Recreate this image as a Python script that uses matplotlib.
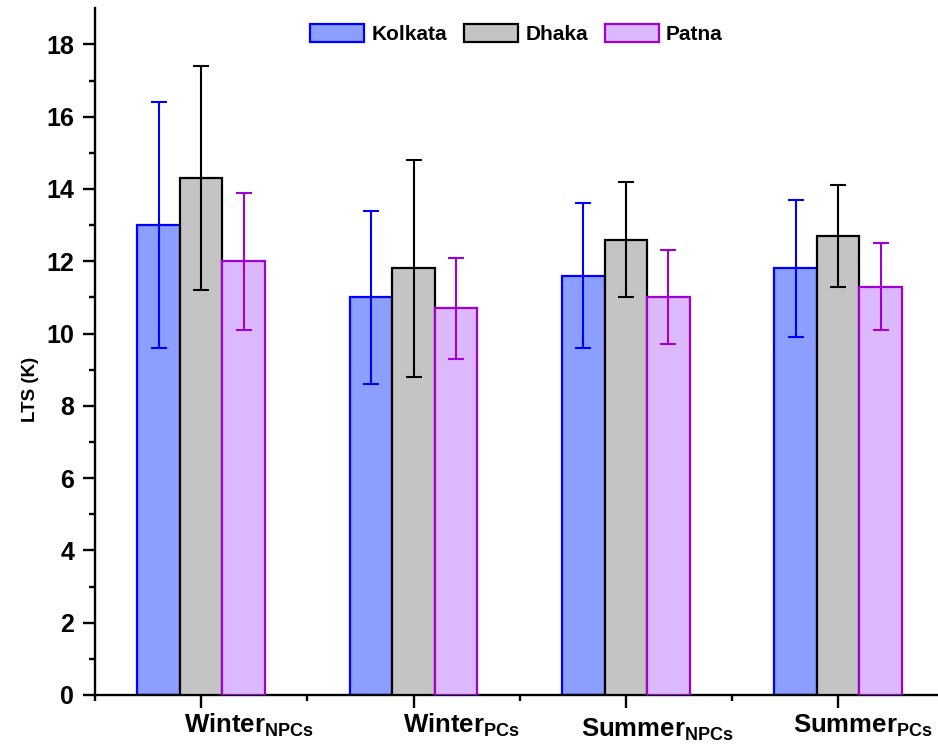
import numpy as np
import matplotlib.pyplot as plt

plt.rcParams['font.family'] = ['Liberation Sans', 'DejaVu Sans']
plt.rcParams['font.weight'] = 'bold'
plt.rcParams['mathtext.fontset'] = 'custom'
plt.rcParams['mathtext.bf'] = 'Liberation Sans:bold'
plt.rcParams['mathtext.rm'] = 'Liberation Sans:bold'

seasons = ['Winter', 'Winter', 'Summer', 'Summer']
subs = ['NPCs', 'PCs', 'NPCs', 'PCs']
cities = ['Kolkata', 'Dhaka', 'Patna']

kolkata = [13.0, 11.0, 11.6, 11.8]
kolkata_err = [3.4, 2.4, 2.0, 1.9]
dhaka = [14.3, 11.8, 12.6, 12.7]
dhaka_err = [3.1, 3.0, 1.6, 1.4]
patna = [12.0, 10.7, 11.0, 11.3]
patna_err = [1.9, 1.4, 1.3, 1.2]

faces = ['#8c9eff', '#c4c4c4', '#dcb8ff']
edges = ['#0000ff', '#000000', '#a000d2']

fig = plt.figure(figsize=(9.38, 7.51), dpi=100)
ax = fig.add_axes([0.1013, 0.0746, 0.8987, 0.9144])

x = np.arange(len(seasons))
w = 0.2
series = [(kolkata, kolkata_err), (dhaka, dhaka_err), (patna, patna_err)]
for i, (vals, errs) in enumerate(series):
    xs = x + (i - 1) * w
    ax.bar(xs, vals, w, color=faces[i], edgecolor=edges[i], linewidth=1.6,
           label=cities[i], zorder=2 + i)
    ax.errorbar(xs, vals, yerr=errs, fmt='none', ecolor=edges[i],
                elinewidth=1.5, capsize=6, capthick=1.5, zorder=2.5 + i)

ax.set_xlim(-0.5, 3.47)
ax.set_ylim(0, 19)
ax.set_yticks(np.arange(0, 19, 2))
ax.set_yticks(np.arange(1, 19, 2), minor=True)
ax.set_xticks(x)
ax.set_xticks(x - 0.5, minor=True)
ax.set_xticklabels([])

for s in ['top', 'right']:
    ax.spines[s].set_visible(False)
for s in ['left', 'bottom']:
    ax.spines[s].set_linewidth(1.7)

ax.tick_params(axis='both', which='major', length=9, width=1.7, labelsize=18, pad=6)
ax.tick_params(axis='both', which='minor', length=4.5, width=1.7)
for lab in ax.get_yticklabels():
    lab.set_fontweight('bold')

# category labels, placed as in the original (left edge near each group)
dx = [-0.08, -0.048, -0.209, -0.211]
ys = [-0.054, -0.054, -0.061, -0.055]
for i in range(len(seasons)):
    ax.text(x[i] + dx[i], ys[i], r'$\mathbf{%s}_{\mathbf{%s}}$' % (seasons[i], subs[i]),
            transform=ax.get_xaxis_transform(), ha='left', va='baseline',
            fontsize=18.5)

ax.set_ylabel('LTS (K)', fontsize=13.5, fontweight='bold')
ax.yaxis.set_label_coords(-0.066, 0.445)

leg = ax.legend(loc='upper center', bbox_to_anchor=(0.5, 1.005), ncol=3,
                frameon=False, fontsize=15, handlelength=2.6, handleheight=1.0,
                handletextpad=0.35, columnspacing=0.8)
for t in leg.get_texts():
    t.set_fontweight('bold')

fig.savefig('out.png', dpi=100)
